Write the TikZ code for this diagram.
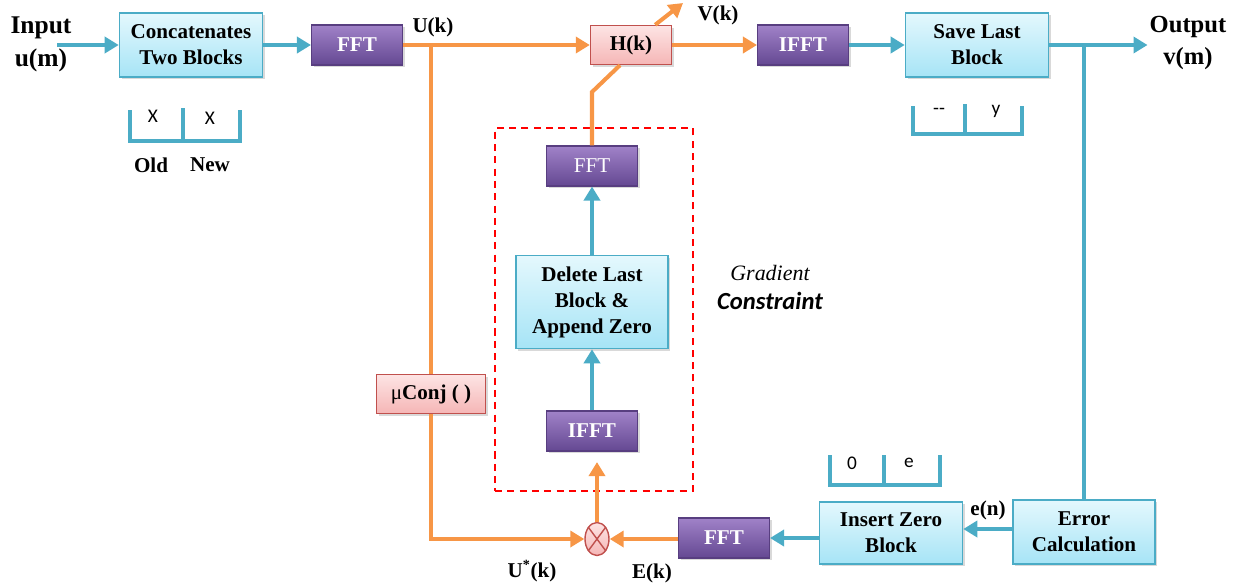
\documentclass[tikz,border=0pt]{standalone}
\usepackage{fontspec}
\setmainfont{Liberation Serif}
\newfontfamily\carlito{Carlito}
\usepackage{tikz}
\usetikzlibrary{positioning,arrows.meta,shapes.geometric,shadows,calc}
\definecolor{flBlue}{RGB}{75,172,198}
\definecolor{flOrange}{RGB}{247,150,70}
\definecolor{flBoxTop}{RGB}{228,248,253}
\definecolor{flBoxBot}{RGB}{166,228,246}
\definecolor{flPurTop}{RGB}{160,130,200}
\definecolor{flPurMid}{RGB}{124,92,166}
\definecolor{flPurBot}{RGB}{100,72,146}
\definecolor{flPurEdge}{RGB}{88,62,128}
\definecolor{flPinkTop}{RGB}{253,228,228}
\definecolor{flPinkBot}{RGB}{245,182,182}
\definecolor{flRed}{RGB}{192,80,77}

\begin{document}
\begin{tikzpicture}[
  x=0.02cm, y=-0.02cm,
  font=\fontsize{12}{14.8}\selectfont\bfseries,
  every node/.append style={align=center},
  shd/.style={drop shadow={shadow xshift=1.3pt, shadow yshift=-1.3pt, opacity=0.3}},
  blk/.style={draw=flBlue, line width=0.9pt, top color=flBoxTop, bottom color=flBoxBot, minimum width=2.86cm, minimum height=1.28cm, inner sep=2pt, shd},
  fft/.style={draw=flPurEdge, line width=0.6pt, top color=flPurTop, middle color=flPurMid, bottom color=flPurBot, text=white, minimum width=1.82cm, minimum height=0.8cm, inner sep=2pt, shd},
  pnk/.style={draw=flRed, line width=0.8pt, top color=flPinkTop, bottom color=flPinkBot, minimum height=0.78cm, inner sep=2pt, shd},
  barr/.style={-{Triangle[length=2.8mm, width=3.2mm]}, flBlue, line width=2.3pt},
  oarr/.style={-{Triangle[length=2.8mm, width=3.2mm]}, flOrange, line width=2.3pt},
  oline/.style={flOrange, line width=2.3pt},
  bline/.style={flBlue, line width=2.3pt},
  slot/.style={font=\carlito\fontsize{11}{12}\selectfont},
]
\useasboundingbox (0,0) rectangle (1242,586);
% forward path
\node[font=\fontsize{14.5}{18.7}\selectfont\bfseries] (inp) at (41,44) {Input\\u(m)};
\coordinate (inS) at (57,45);
\node[blk] (cat) at (191,45) {Concatenates\\Two Blocks};
\node[fft] (fft1) at (357,45) {FFT};
\node[pnk, minimum width=1.62cm] (hk) at (631,45) {H(k)};
\node[fft] (ifft1) at (803,45) {IFFT};
\node[blk] (save) at (977,45) {Save Last\\Block};
\node[font=\fontsize{14}{18.5}\selectfont\bfseries] (outp) at (1188,43) {Output\\v(m)};
\coordinate (uk) at (431,45);
\coordinate (vk) at (683,3);
\coordinate (tap) at (1084,45);
\draw[barr] (inS) -- (cat);
\draw[barr] (cat) -- (fft1);
\draw[oarr] (fft1) -- (hk);
\draw[oarr] (hk.north east) ++(-17,0) -- (vk);
\draw[oarr] (hk) -- (ifft1);
\draw[barr] (ifft1) -- (save);
\draw[barr] (save.east) -- ($(save.east -| outp.west)+(4,0)$);
\node (ulbl) at (433,27) {U(k)};
\node (vlbl) at (718,15) {V(k)};
% block pictures
\draw[bline] (130,110) -- (130,141) -- (240,141) -- (240,110);
\draw[bline] (183,108) -- (183,141);
\node[slot] (xo) at (153,116) {X};
\node[slot] (xn) at (210,118) {X};
\node (old) at (151,165) {Old};
\node (new) at (210,165) {New};
\draw[bline] (913,106) -- (913,134) -- (1022,134) -- (1022,106);
\draw[bline] (965,104) -- (965,134);
\node[slot] (sd) at (939,111) {--};
\node[slot] (sy) at (996,111) {y};
\draw[bline] (830,455) -- (830,485) -- (940,485) -- (940,455);
\draw[bline] (884,455) -- (884,485);
\node[slot] (z0) at (852,463) {0};
\node[slot] (ze) at (909,463) {e};
% gradient constraint
\node[draw=red, dashed, line width=0.8pt, dash pattern=on 4pt off 3pt, minimum width=3.96cm, minimum height=7.26cm] (grad) at (594,309.5) {};
\node[fft, font=\fontsize{12}{14}\selectfont\mdseries] (fft2) at (592,166) {FFT};
\node[blk, minimum width=3.04cm, minimum height=1.86cm] (del) at (592,302) {Delete Last\\Block \&\\Append Zero};
\node[fft] (ifft2) at (592,431) {IFFT};
\node[font=\fontsize{12.5}{14}\selectfont\itshape] (gl1) at (770,273) {Gradient};
\node[font=\carlito\fontsize{14}{16}\selectfont\bfseries\itshape] (gl2) at (770,301) {Constraint};
\coordinate (bend) at (592,92);
\draw[oline] (fft2.north) -- (bend) -- ($(hk.south)+(-11,0)$);
\draw[barr] (del.north) -- (fft2.south);
\draw[barr] (ifft2.north) -- (del.south);
% error path
\node[pnk, minimum width=2.18cm] (mu) at (431,394) {\mdseries μ\bfseries Conj ( )};
\node[ellipse, draw=flRed, line width=0.8pt, top color=flPinkTop, bottom color=flPinkBot, minimum width=0.48cm, minimum height=0.66cm, inner sep=0pt] (mul) at (597,539) {};
\draw[flRed, line width=0.8pt] (mul.north west) -- (mul.south east) (mul.north east) -- (mul.south west);
\node[fft] (fft3) at (724,538) {FFT};
\node[blk, minimum width=2.86cm, minimum height=1.24cm] (ins) at (891,533) {Insert Zero\\Block};
\node[blk, minimum width=2.84cm] (err) at (1084,532) {Error\\Calculation};
\draw[oline] (uk) -- (mu.north);
\draw[oarr] (mu.south) |- (mul.west);
\draw[oarr, shorten >=6pt] (mul.north) -- (mul.north |- ifft2.south);
\draw[oarr] (fft3.west |- mul) -- (mul.east);
\draw[barr] (ins.west |- fft3) -- (fft3.east);
\draw[barr] ($(err.west)+(0,-3)$) -- ($(err.west -| ins.east)+(0,-3)$);
\draw[bline] (tap) -- (err.north);
\node (ustar) at (532,571) {U\textsuperscript{*}(k)};
\node (ek) at (652,573) {E(k)};
\node (en) at (988,510) {e(n)};
\end{tikzpicture}
\end{document}
